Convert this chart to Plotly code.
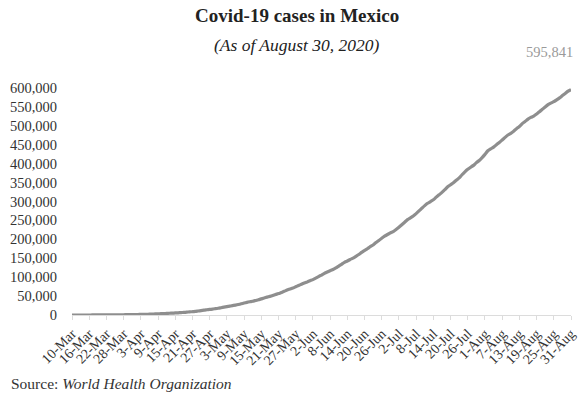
import pandas as pd
import plotly.graph_objects as go

# Cumulative confirmed COVID-19 cases in Mexico, daily from 10 March to 31 August 2020
start_date = "2020-03-10"
cases = [
    7, 8, 12, 16, 26, 41, 53, 82, 93, 118, 164, 203, 251, 316, 367, 405, 475, 585, 717, 848, 993, 1094,
    1215, 1378, 1510, 1688, 1890, 2143, 2439, 2785, 3181, 3441, 3844, 4219, 4661, 5014, 5399, 5847,
    6297, 6875, 7497, 8261, 8772, 9501, 10544, 11633, 12872, 13842, 14677, 15529, 16752, 17799,
    19224, 20739, 22088, 23471, 24905, 26025, 27634, 29616, 31522, 33460, 35022, 36327, 38324, 40186,
    42595, 45032, 47144, 49219, 51633, 54346, 56594, 59567, 62527, 65856, 68620, 71105, 74560, 78023,
    81400, 84627, 87512,
    90664, 93435, 97326, 101238, 105680, 110026, 113619, 117103, 120102, 124301, 129184, 133974,
    139196, 142690, 146837, 150264, 154863, 159793, 165455, 170485, 175202, 180545, 185122, 191410,
    196847, 202951, 208392, 212802, 216852, 220657,
    226089, 231770, 238511, 245251, 252165, 256848, 261750, 268008, 275003, 282283, 289174, 295268,
    299750, 304435, 311486, 317635, 324041, 331298, 338913, 344224, 349396, 356255, 362274, 370712,
    378285, 385036, 390516, 395489, 402697, 408449, 416179,
    424637, 434193, 439046, 443813, 449961, 456100, 462690, 469407, 475902, 480278, 485836, 492522,
    498380, 505751, 511369, 517714, 522162, 525733, 531239, 537031, 543806, 549734, 556216, 560164,
    563705, 568621, 573888, 579914, 585738, 591712, 595841,
]
tick_step = 6
y_ticks = list(range(0, 600001, 50000))

days = pd.date_range(start_date, periods=len(cases), freq="D")
day_labels = [f"{d.day}-{d.strftime('%b')}" for d in days]
shown_ticks = day_labels[::tick_step]

serif = "Palatino Linotype, Book Antiqua, Palatino, Liberation Serif, serif"
ink = "#333333"

fig = go.Figure()
fig.add_trace(go.Scatter(
    x=day_labels, y=cases, mode="lines",
    line=dict(color="#8e8e8e", width=3.2, shape="spline", smoothing=0.4),
    hoverinfo="x+y", showlegend=False,
))

fig.update_layout(
    width=584, height=402,
    margin=dict(l=72, r=6, t=88, b=87),
    paper_bgcolor="white", plot_bgcolor="white",
    font=dict(family=serif, color=ink, size=13),
    xaxis=dict(
        type="category", range=[0, len(cases) - 1],
        tickmode="array", tickvals=shown_ticks, ticktext=shown_ticks,
        tickangle=-45, ticks="outside", ticklen=4, tickcolor="#dcdcdc",
        showline=True, linecolor="#dcdcdc", linewidth=1,
        showgrid=False, zeroline=False,
        tickfont=dict(family=serif, size=14, color=ink),
    ),
    yaxis=dict(
        range=[0, 600000], tickmode="array", tickvals=y_ticks,
        ticktext=[f"{v:,}" for v in y_ticks],
        showgrid=False, zeroline=False, showline=False,
        ticks="", ticklabelstandoff=14,
        tickfont=dict(family=serif, size=14.5, color=ink),
    ),
)

# Title and subtitle
fig.add_annotation(
    xref="paper", yref="paper", x=0.45, y=1.32, xanchor="center", yanchor="middle",
    text="<b>Covid-19 cases in Mexico</b>", showarrow=False,
    font=dict(family=serif, size=19, color="#222222"),
)
fig.add_annotation(
    xref="paper", yref="paper", x=0.45, y=1.19, xanchor="center", yanchor="middle",
    text="<i>(As of August 30, 2020)</i>", showarrow=False,
    font=dict(family=serif, size=17.5, color="#222222"),
)

# Latest total above the end of the line
fig.add_annotation(
    x=day_labels[-1], y=1.16, yref="paper", text=f"{cases[-1]:,}",
    showarrow=False, xanchor="right", xshift=4, yanchor="middle",
    font=dict(family=serif, size=14.5, color="#9a9a9a"),
)

fig.add_annotation(
    xref="paper", yref="paper", x=-0.126, y=-0.3, xanchor="left", yanchor="middle",
    text="Source: <i>World Health Organization</i>", showarrow=False,
    font=dict(family=serif, size=15.5, color=ink),
)

fig.write_html("out.html")
